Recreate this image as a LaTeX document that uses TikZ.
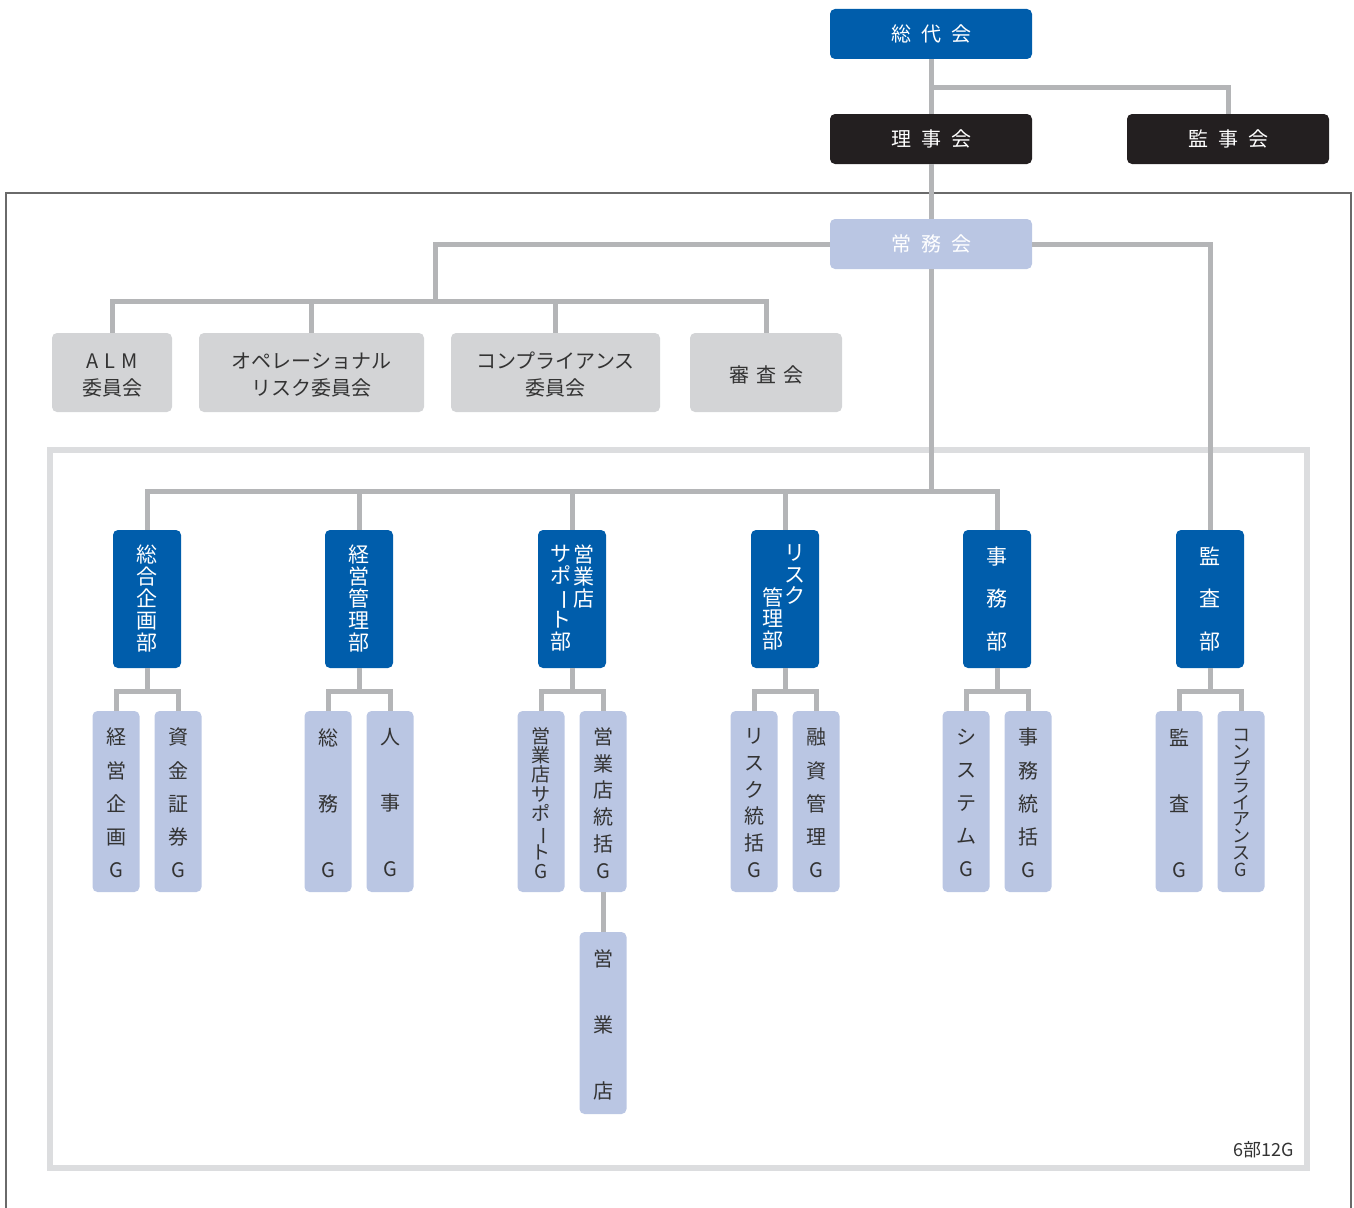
\documentclass[tikz,border=0pt]{standalone}
\usepackage{fontspec}
\setmainfont{Noto Sans CJK JP}
\usepackage{graphicx}
\definecolor{cblue}{HTML}{005DAB}
\definecolor{cblack}{HTML}{231F20}
\definecolor{clav}{HTML}{BAC6E3}
\definecolor{cgraybox}{HTML}{D3D4D6}
\definecolor{cline}{HTML}{B4B5B7}
\definecolor{cframe}{HTML}{DCDDDF}
\definecolor{couter}{HTML}{6A6A6A}
\definecolor{ctext}{HTML}{333333}
\newcommand{\vfs}[2]{\fontsize{#1}{#2}\selectfont\lineskiplimit=-100pt\lineskip=0pt}
\newcommand{\vbar}{\rotatebox[origin=c]{-90}{ー}}
\begin{document}
\begin{tikzpicture}[x=1pt,y=-1pt,
  box/.style={rounded corners=5pt, inner sep=0pt, draw=none},
  topbox/.style={box, minimum width=202pt, minimum height=50pt, text=white, font=\fontsize{20}{24}\selectfont},
  bluebox/.style={topbox, fill=cblue},
  blackbox/.style={topbox, fill=cblack},
  lavbox/.style={topbox, fill=clav},
  graybox/.style={box, fill=cgraybox, minimum height=79pt},
  graytxt/.style={inner sep=0pt, text=ctext, align=center, yshift=-2.5pt, font=\fontsize{20}{27}\selectfont},
  deptbox/.style={box, fill=cblue, minimum width=68pt, minimum height=138pt},
  grpbox/.style={box, fill=clav, minimum width=47pt, minimum height=181pt},
  vw/.style={inner sep=0pt, align=center, text=white},
  vd/.style={inner sep=0pt, align=center, text=ctext, yshift=-1.5pt},
  conn/.style={draw=cline, line width=5pt}
]
\useasboundingbox (0,0) rectangle (1354,1207);
% frames
\draw[couter, line width=1.2pt] (6,1210) -- (6,193) -- (1351,193) -- (1351,1210);
\draw[cframe, line width=6pt] (50,450) rectangle (1307,1168);

% top
\node[bluebox] (sodai) at (931,34) {総\hspace{.5em}代\hspace{.5em}会};
\node[blackbox] (riji) at (931,139) {理\hspace{.5em}事\hspace{.5em}会};
\node[blackbox] (kanji) at (1228,139) {監\hspace{.5em}事\hspace{.5em}会};
\node[lavbox] (jomu) at (931,244) {常\hspace{.5em}務\hspace{.5em}会};

% committees
\node[graybox, minimum width=120pt] (alm) at (112,372.5) {};
\node[graybox, minimum width=225pt] (ope) at (311.5,372.5) {};
\node[graybox, minimum width=209pt] (comp) at (555.5,372.5) {};
\node[graybox, minimum width=152pt] (shinsa) at (766,372.5) {};
\node[graytxt] at (alm) {A\hspace{6pt}L\hspace{6pt}M\\委員会};
\node[graytxt] at (ope) {オペレーショナル\\リスク委員会};
\node[graytxt] at (comp) {コンプライアンス\\委員会};
\node[graytxt] at (shinsa) {審\hspace{.35em}査\hspace{.35em}会};

% departments
\node[deptbox] (d1) at (147,599) {};
\node[deptbox] (d2) at (359,599) {};
\node[deptbox] (d3) at (572,599) {};
\node[deptbox] (d4) at (785,599) {};
\node[deptbox] (d5) at (997,599) {};
\node[deptbox] (d6) at (1210,599) {};

% groups
\node[grpbox] (g1a) at (116,801.5) {};
\node[grpbox] (g1b) at (178,801.5) {};
\node[grpbox] (g2a) at (328,801.5) {};
\node[grpbox] (g2b) at (390,801.5) {};
\node[grpbox] (g3a) at (541,801.5) {};
\node[grpbox] (g3b) at (603,801.5) {};
\node[grpbox] (g4a) at (754,801.5) {};
\node[grpbox] (g4b) at (816,801.5) {};
\node[grpbox] (g5a) at (966,801.5) {};
\node[grpbox] (g5b) at (1028,801.5) {};
\node[grpbox] (g6a) at (1179,801.5) {};
\node[grpbox] (g6b) at (1241,801.5) {};
\node[grpbox, minimum height=182pt] (eig) at (603,1023) {};

% connectors
\draw[conn] (sodai.south) -- (riji.north);
\coordinate (b1) at (931,87);
\draw[conn] (b1) -| (kanji.north);
\draw[conn] (riji.south) -- (jomu.north);
\coordinate (b3) at (435,301);
\draw[conn] (jomu.west) -| (b3);
\draw[conn] (alm.north) |- (b3) -| (shinsa.north);
\draw[conn] (ope.north) -- (ope.north |- b3);
\draw[conn] (comp.north) -- (comp.north |- b3);
\draw[conn] (jomu.east) -| (d6.north);
\coordinate (b4) at (931,491);
\draw[conn] (jomu.south) -- (b4);
\draw[conn] (d1.north) |- (b4) -| (d5.north);
\draw[conn] (d2.north) -- (d2.north |- b4);
\draw[conn] (d3.north) -- (d3.north |- b4);
\draw[conn] (d4.north) -- (d4.north |- b4);
\foreach \i/\x in {1/147,2/359,3/572,4/785,5/997,6/1210}{
  \coordinate (j\i) at (\x,691);
  \draw[conn] (d\i.south) -- (j\i);
  \draw[conn] (g\i a.north) |- (j\i) -| (g\i b.north);
}
\draw[conn] (g3b.south) -- (eig.north);

% department texts
\node[vw, font=\vfs{21}{22}] at (d1) {総\\合\\企\\画\\部};
\node[vw, font=\vfs{21}{22}] at (d2) {経\\営\\管\\理\\部};
\node[vw, font=\vfs{21}{22}, anchor=north] at (583.5,544.5) {営\\業\\店};
\node[vw, font=\vfs{21}{22}, anchor=north] at (561,544.5) {サ\\ポ\\\vbar\\ト\\部};
\node[vw, font=\vfs{21}{21.5}, anchor=north] at (795,544.5) {リ\\ス\\ク};
\node[vw, font=\vfs{21}{21.5}, anchor=north] at (773,587.5) {管\\理\\部};
\node[vw, font=\vfs{21}{42.5}] at (d5) {事\\務\\部};
\node[vw, font=\vfs{21}{42.5}] at (d6) {監\\査\\部};

% group texts
\node[vd, font=\vfs{20}{33.2}] at (g1a) {経\\営\\企\\画\\G};
\node[vd, font=\vfs{20}{33.2}] at (g1b) {資\\金\\証\\券\\G};
\node[vd, font=\vfs{20}{66}] at (g2a) {総\\務\\G};
\node[vd, font=\vfs{20}{66}] at (g2b) {人\\事\\G};
\node[vd, font=\vfs{19}{19.3}] at (g3a) {営\\業\\店\\サ\\ポ\\\vbar\\ト\\G};
\node[vd, font=\vfs{20}{26.7}] at (g3b) {営\\業\\店\\統\\括\\G};
\node[vd, font=\vfs{20}{26.7}] at (g4a) {リ\\ス\\ク\\統\\括\\G};
\node[vd, font=\vfs{20}{33.2}] at (g4b) {融\\資\\管\\理\\G};
\node[vd, font=\vfs{20}{33.2}] at (g5a) {シ\\ス\\テ\\ム\\G};
\node[vd, font=\vfs{20}{33.2}] at (g5b) {事\\務\\統\\括\\G};
\node[vd, font=\vfs{20}{66}] at (g6a) {監\\査\\G};
\node[vd, font=\vfs{18}{16.9}] at (g6b) {コ\\ン\\プ\\ラ\\イ\\ア\\ン\\ス\\G};
\node[vd, font=\vfs{20}{66}] at (eig) {営\\業\\店};

\node[inner sep=0pt, anchor=east, text=ctext, font=\fontsize{18}{20}\selectfont] (total) at (1294,1150) {6部12G};
\end{tikzpicture}
\end{document}
